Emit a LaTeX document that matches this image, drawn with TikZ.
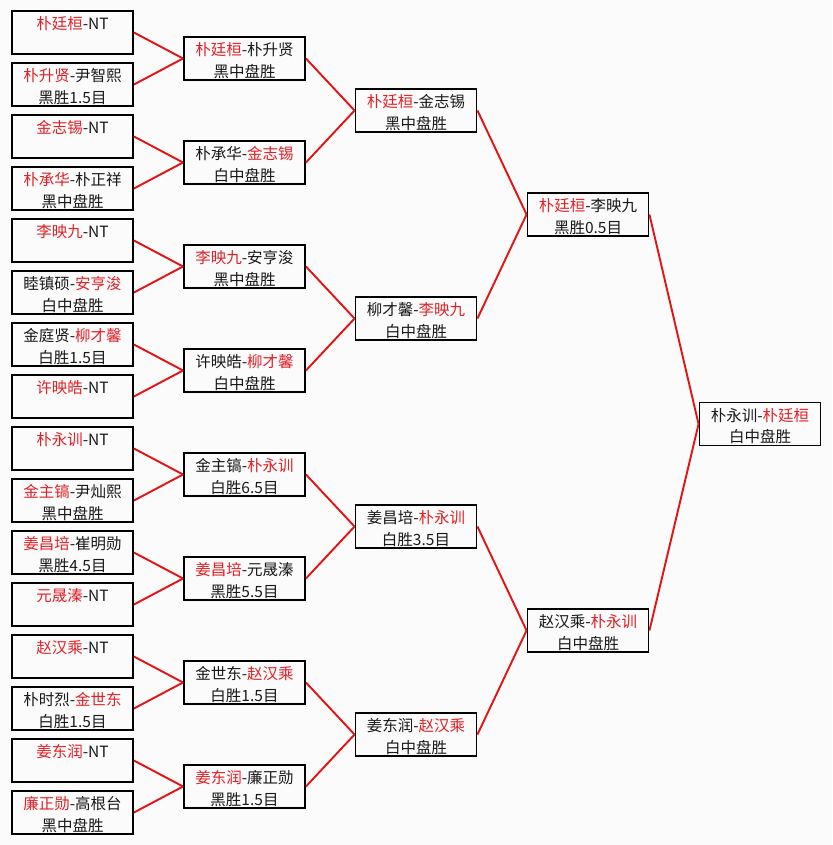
\documentclass[tikz,border=0pt]{standalone}
\usepackage{fontspec}
\setmainfont{Noto Sans CJK SC}
\usetikzlibrary{calc}
\definecolor{wred}{RGB}{228,18,18}
\definecolor{tred}{RGB}{226,32,38}
\definecolor{bg}{RGB}{251,251,251}
\definecolor{ink}{RGB}{25,25,25}
\newcommand{\rd}[1]{\textcolor{tred}{#1}}
\tikzset{
  box/.style={draw=black, line width=1.9pt, minimum width=121pt, minimum height=43pt, inner sep=0pt},
  link/.style={draw=wred, line width=1.9pt},
  ln/.style={font=\fontsize{15.5}{18}\selectfont, text=ink, inner sep=0pt, anchor=base}
}
\newcommand{\mkbox}[5]{%
  \node[box] (#1) at (#2,#3) {};
  \node[ln] (#1-l1) at ($(#1.center)+(0,-2.6)$) {#4};
  \node[ln] (#1-l2) at ($(#1.center)+(0,18.6)$) {#5};
}
\newcommand{\mkboxone}[4]{%
  \node[box] (#1) at (#2,#3) {};
  \node[ln] (#1-l1) at ($(#1.center)+(0,-2.6)$) {#4};
}
\begin{document}
\begin{tikzpicture}[x=1pt,y=-1pt]
\fill[bg] (0,0) rectangle (832,845);
\useasboundingbox (0,0) rectangle (832,845);
% column 1
\mkboxone{a1}{72.5}{32.5}{\rd{朴廷桓}-NT}
\mkbox{a2}{72.5}{84.5}{\rd{朴升贤}-尹智熙}{黑胜1.5目}
\mkboxone{a3}{72.5}{136.5}{\rd{金志锡}-NT}
\mkbox{a4}{72.5}{188.5}{\rd{朴承华}-朴正祥}{黑中盘胜}
\mkboxone{a5}{72.5}{240.5}{\rd{李映九}-NT}
\mkbox{a6}{72.5}{292.5}{睦镇硕-\rd{安亨浚}}{白中盘胜}
\mkbox{a7}{72.5}{344.5}{金庭贤-\rd{柳才馨}}{白胜1.5目}
\mkboxone{a8}{72.5}{396.5}{\rd{许映皓}-NT}
\mkboxone{a9}{72.5}{448.5}{\rd{朴永训}-NT}
\mkbox{a10}{72.5}{500.5}{\rd{金主镐}-尹灿熙}{黑中盘胜}
\mkbox{a11}{72.5}{552.5}{\rd{姜昌培}-崔明勋}{黑胜4.5目}
\mkboxone{a12}{72.5}{604.5}{\rd{元晟溱}-NT}
\mkboxone{a13}{72.5}{656.5}{\rd{赵汉乘}-NT}
\mkbox{a14}{72.5}{708.5}{朴时烈-\rd{金世东}}{白胜1.5目}
\mkboxone{a15}{72.5}{760.5}{\rd{姜东润}-NT}
\mkbox{a16}{72.5}{812.5}{\rd{廉正勋}-高根台}{黑中盘胜}
% column 2
\mkbox{b1}{244.5}{58.5}{\rd{朴廷桓}-朴升贤}{黑中盘胜}
\mkbox{b2}{244.5}{162.5}{朴承华-\rd{金志锡}}{白中盘胜}
\mkbox{b3}{244.5}{266.5}{\rd{李映九}-安亨浚}{黑中盘胜}
\mkbox{b4}{244.5}{370.5}{许映皓-\rd{柳才馨}}{白中盘胜}
\mkbox{b5}{244.5}{474.5}{金主镐-\rd{朴永训}}{白胜6.5目}
\mkbox{b6}{244.5}{578.5}{\rd{姜昌培}-元晟溱}{黑胜5.5目}
\mkbox{b7}{244.5}{682.5}{金世东-\rd{赵汉乘}}{白胜1.5目}
\mkbox{b8}{244.5}{786.5}{\rd{姜东润}-廉正勋}{黑胜1.5目}
% column 3
\mkbox{c1}{416}{110.5}{\rd{朴廷桓}-金志锡}{黑中盘胜}
\mkbox{c2}{416}{318.5}{柳才馨-\rd{李映九}}{白中盘胜}
\mkbox{c3}{416}{526.5}{姜昌培-\rd{朴永训}}{白胜3.5目}
\mkbox{c4}{416}{734.5}{姜东润-\rd{赵汉乘}}{白中盘胜}
% column 4
\mkbox{d1}{588}{214.5}{\rd{朴廷桓}-李映九}{黑胜0.5目}
\mkbox{d2}{588}{630.5}{赵汉乘-\rd{朴永训}}{白中盘胜}
% column 5
\mkbox{e1}{760}{424}{朴永训-\rd{朴廷桓}}{白中盘胜}
% connectors
\foreach \c/\p in {a1/b1,a2/b1,a3/b2,a4/b2,a5/b3,a6/b3,a7/b4,a8/b4,
                   a9/b5,a10/b5,a11/b6,a12/b6,a13/b7,a14/b7,a15/b8,a16/b8,
                   b1/c1,b2/c1,b3/c2,b4/c2,b5/c3,b6/c3,b7/c4,b8/c4,
                   c1/d1,c2/d1,c3/d2,c4/d2,d1/e1,d2/e1}
  \draw[link] (\c.east) -- (\p.west);
\end{tikzpicture}
\end{document}
